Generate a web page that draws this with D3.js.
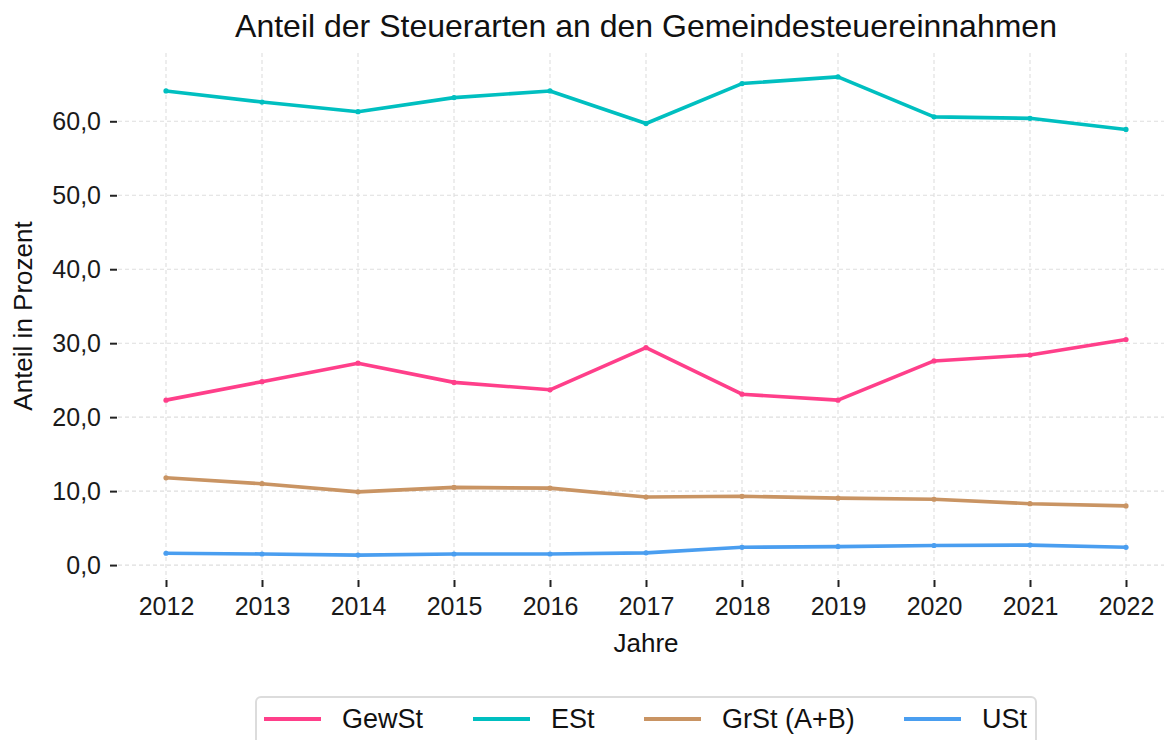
<!DOCTYPE html>
<html>
<head>
<meta charset="utf-8">
<script src="https://cdn.jsdelivr.net/npm/d3@7"></script>
<style>
  html, body { margin: 0; padding: 0; background: #fff; }
  svg { display: block; font-family: "Liberation Sans", Arial, sans-serif; }
</style>
</head>
<body>
<svg id="chart" width="1164" height="740"></svg>
<script>
// Anteil der Steuerarten an den Gemeindesteuereinnahmen (in Prozent)
const years = [2012, 2013, 2014, 2015, 2016, 2017, 2018, 2019, 2020, 2021, 2022];
const gewSt = [22.3, 24.8, 27.3, 24.7, 23.7, 29.4, 23.1, 22.3, 27.6, 28.4, 30.5];
const eSt   = [64.1, 62.6, 61.3, 63.2, 64.1, 59.7, 65.1, 66.0, 60.6, 60.4, 58.9];
const grSt  = [11.8, 11.0, 9.9, 10.5, 10.4, 9.2, 9.3, 9.05, 8.9, 8.3, 8.0];
const uSt   = [1.6, 1.5, 1.35, 1.5, 1.5, 1.65, 2.4, 2.5, 2.65, 2.7, 2.4];
const seriesNames = ["GewSt", "ESt", "GrSt (A+B)", "USt"];
const seriesColors = ["#ff3f8a", "#00bfc0", "#c99463", "#4a9ef0"];
const yTicks = [0, 10, 20, 30, 40, 50, 60];

const series = [gewSt, eSt, grSt, uSt].map((vals, i) => ({
  name: seriesNames[i],
  color: seriesColors[i],
  values: years.map((y, j) => ({ year: y, value: vals[j] }))
}));

const svg = d3.select("#chart");
const W = 1164, H = 740;
const panel = { left: 118, top: 53, bottom: 579 };

const x = d3.scaleLinear().domain([2011.5, 2022.5]).range([panel.left, 1174]);
const allVals = [].concat(gewSt, eSt, grSt, uSt);
const yMin = d3.min(allVals), yMax = d3.max(allVals);
const pad = (yMax - yMin) * 0.05;
const y = d3.scaleLinear().domain([yMin - pad, yMax + pad]).range([panel.bottom, panel.top]);

const fmt = d => d.toFixed(1).replace(".", ",");

// grid
const grid = svg.append("g").attr("stroke", "#dedede").attr("stroke-width", 1.1)
  .attr("stroke-dasharray", "4,3");
grid.selectAll(".hg").data(yTicks).join("line")
  .attr("x1", panel.left).attr("x2", W)
  .attr("y1", d => y(d)).attr("y2", d => y(d));
grid.selectAll(".vg").data(years).join("line")
  .attr("x1", d => x(d)).attr("x2", d => x(d))
  .attr("y1", panel.top).attr("y2", panel.bottom);

// y axis
const yAxis = d3.axisLeft(y).tickValues(yTicks).tickFormat(fmt).tickSize(7).tickPadding(9);
const gy = svg.append("g").attr("transform", `translate(${panel.left - 1},0)`).call(yAxis);
gy.select(".domain").remove();
gy.selectAll(".tick line").attr("stroke", "#222").attr("stroke-width", 2);
gy.selectAll(".tick text").attr("font-size", 25).attr("fill", "#1a1a1a");

// x axis
const xAxis = d3.axisBottom(x).tickValues(years).tickFormat(d3.format("d")).tickSize(7).tickPadding(10);
const gx = svg.append("g").attr("transform", `translate(0,${panel.bottom + 1})`).call(xAxis);
gx.select(".domain").remove();
gx.selectAll(".tick line").attr("stroke", "#222").attr("stroke-width", 2);
gx.selectAll(".tick text").attr("font-size", 25).attr("fill", "#1a1a1a");

// lines
const line = d3.line().x(d => x(d.year)).y(d => y(d.value));
const gl = svg.append("g");
series.forEach(s => {
  gl.append("path").datum(s.values)
    .attr("fill", "none").attr("stroke", s.color).attr("stroke-width", 3.6)
    .attr("stroke-linejoin", "round").attr("d", line);
  gl.selectAll(null).data(s.values).join("circle")
    .attr("cx", d => x(d.year)).attr("cy", d => y(d.value)).attr("r", 2.6)
    .attr("fill", s.color);
});

// title and axis titles
svg.append("text").attr("x", 646).attr("y", 37).attr("text-anchor", "middle")
  .attr("font-size", 32).attr("fill", "#111")
  .text("Anteil der Steuerarten an den Gemeindesteuereinnahmen");
svg.append("text").attr("x", 646).attr("y", 652).attr("text-anchor", "middle")
  .attr("font-size", 26).attr("fill", "#111").text("Jahre");
svg.append("text").attr("transform", `translate(32,${(panel.top + panel.bottom) / 2}) rotate(-90)`)
  .attr("text-anchor", "middle").attr("font-size", 26).attr("fill", "#111")
  .text("Anteil in Prozent");

// legend
const lg = svg.append("g");
lg.append("rect").attr("x", 256).attr("y", 697).attr("width", 780).attr("height", 60)
  .attr("rx", 5).attr("fill", "#fff").attr("stroke", "#dcdcdc").attr("stroke-width", 2);
const keyX = [264, 473, 644, 904];
series.forEach((s, i) => {
  const k = lg.append("g").attr("transform", `translate(${keyX[i]},719)`);
  k.append("line").attr("x1", 0).attr("x2", 57).attr("y1", 0).attr("y2", 0)
    .attr("stroke", s.color).attr("stroke-width", 4);
  k.append("circle").attr("cx", 28.5).attr("cy", 0).attr("r", 2).attr("fill", s.color);
  k.append("text").attr("x", 78).attr("y", 9).attr("font-size", 27).attr("fill", "#111").text(s.name);
});
</script>
</body>
</html>
